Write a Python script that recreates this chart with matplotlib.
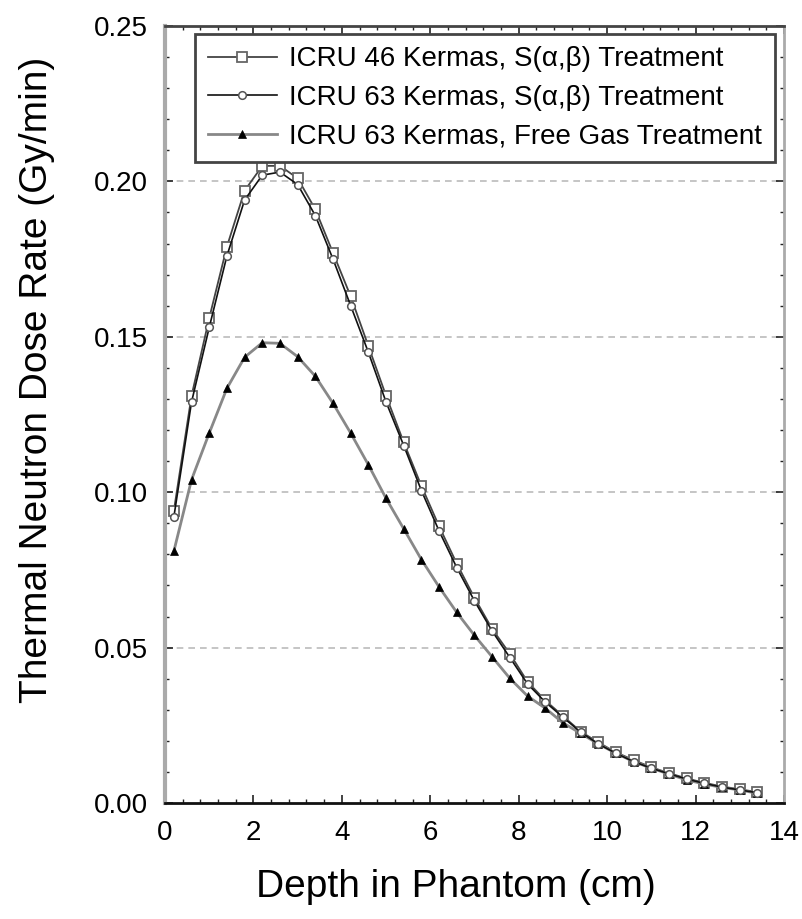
import matplotlib
matplotlib.use("Agg")
import matplotlib.pyplot as plt
from matplotlib.ticker import MultipleLocator

plt.rcParams['font.family'] = ['Liberation Sans', 'DejaVu Sans']

depth = [0.2, 0.6, 1.0, 1.4, 1.8, 2.2, 2.6, 3.0, 3.4, 3.8, 4.2, 4.6, 5.0, 5.4,
         5.8, 6.2, 6.6, 7.0, 7.4, 7.8, 8.2, 8.6, 9.0, 9.4, 9.8, 10.2, 10.6,
         11.0, 11.4, 11.8, 12.2, 12.6, 13.0, 13.4]

icru46_sab = [0.094, 0.131, 0.156, 0.179, 0.197, 0.205, 0.205, 0.201, 0.191,
              0.177, 0.163, 0.147, 0.131, 0.116, 0.102, 0.089, 0.077, 0.066,
              0.056, 0.048, 0.039, 0.033, 0.028, 0.023, 0.0195, 0.0163,
              0.0138, 0.0115, 0.0096, 0.0079, 0.0065, 0.0053, 0.0044, 0.0035]

icru63_sab = [0.092, 0.129, 0.153, 0.176, 0.194, 0.202, 0.203, 0.199, 0.189,
              0.175, 0.160, 0.145, 0.129, 0.115, 0.1005, 0.0875, 0.0757,
              0.0650, 0.0553, 0.0468, 0.0383, 0.0325, 0.0276, 0.0228, 0.0190,
              0.0160, 0.0133, 0.0112, 0.0094, 0.0077, 0.0063, 0.0051, 0.0042,
              0.0033]

icru63_free = [0.081, 0.104, 0.119, 0.1334, 0.1434, 0.1481, 0.1479, 0.1436,
               0.1373, 0.1286, 0.1190, 0.1088, 0.0980, 0.0882, 0.0783, 0.0695,
               0.0613, 0.0539, 0.0470, 0.0401, 0.0344, 0.0305, 0.0258, 0.0224,
               0.0190, 0.0160, 0.0133, 0.0112, 0.0093, 0.0074, 0.0061, 0.0050,
               0.0042, 0.0031]

labels = ["ICRU 46 Kermas, S(\u03b1,\u03b2) Treatment",
          "ICRU 63 Kermas, S(\u03b1,\u03b2) Treatment",
          "ICRU 63 Kermas, Free Gas Treatment"]

fig = plt.figure(figsize=(8.03, 9.19), dpi=100)
ax = fig.add_axes([165/803, 1 - 803/919, (784-165)/803, (803-26)/919])

ax.plot(depth, icru46_sab, color='#444444', lw=1.3, marker='s', ms=6.5,
        mfc='white', mec='#666666', mew=1.3, label=labels[0], zorder=3)
ax.plot(depth, icru63_sab, color='#111111', lw=1.2, marker='o', ms=5.5,
        mfc='white', mec='#555555', mew=1.1, label=labels[1], zorder=4)
ax.plot(depth, icru63_free, color='#888888', lw=2.0, marker='^', ms=6,
        mfc='black', mec='black', mew=0.5, label=labels[2], zorder=3)

ax.set_xlim(0, 14)
ax.set_ylim(0, 0.25)
ax.xaxis.set_major_locator(MultipleLocator(2))
ax.xaxis.set_minor_locator(MultipleLocator(0.4))
ax.yaxis.set_major_locator(MultipleLocator(0.05))
ax.yaxis.set_minor_locator(MultipleLocator(0.01))
ax.yaxis.set_major_formatter(matplotlib.ticker.FormatStrFormatter('%.2f'))

ax.tick_params(which='both', direction='in', top=True, right=True,
               colors='#222222', labelcolor='black')
ax.tick_params(which='major', length=6, width=1.2, labelsize=20, pad=12)
ax.tick_params(which='minor', length=3, width=1)

for y in [0.05, 0.10, 0.15, 0.20]:
    ax.axhline(y, color='#bbbbbb', lw=1.2, ls=(0, (4, 3)), zorder=1)

ax.spines['left'].set_color('#aaaaaa')
ax.spines['left'].set_linewidth(3)
ax.spines['right'].set_color('#aaaaaa')
ax.spines['right'].set_linewidth(2)
ax.spines['bottom'].set_color('#111111')
ax.spines['bottom'].set_linewidth(2)
ax.spines['top'].set_color('#444444')
ax.spines['top'].set_linewidth(2)

ax.set_xlabel("Depth in Phantom (cm)", fontsize=28)
ax.set_ylabel("Thermal Neutron Dose Rate (Gy/min)", fontsize=28)
ax.xaxis.set_label_coords((456 - 165) / 619, -(887 - 803) / 777, transform=ax.transAxes)
ax.yaxis.set_label_coords(-(165 - 37) / 619, (803 - 380) / 777, transform=ax.transAxes)
ax.xaxis.label.set_va('center')
ax.yaxis.label.set_va('center')

leg = ax.legend(loc='upper left', bbox_to_anchor=(0.0485, 0.99), fontsize=20,
                frameon=True, fancybox=False, framealpha=1, edgecolor='#444444',
                handlelength=2.5, handletextpad=0.45, labelspacing=0.45,
                borderpad=0.45, borderaxespad=0)
leg.get_frame().set_linewidth(2)
leg.set_zorder(10)

fig.savefig("out.png", dpi=100)
